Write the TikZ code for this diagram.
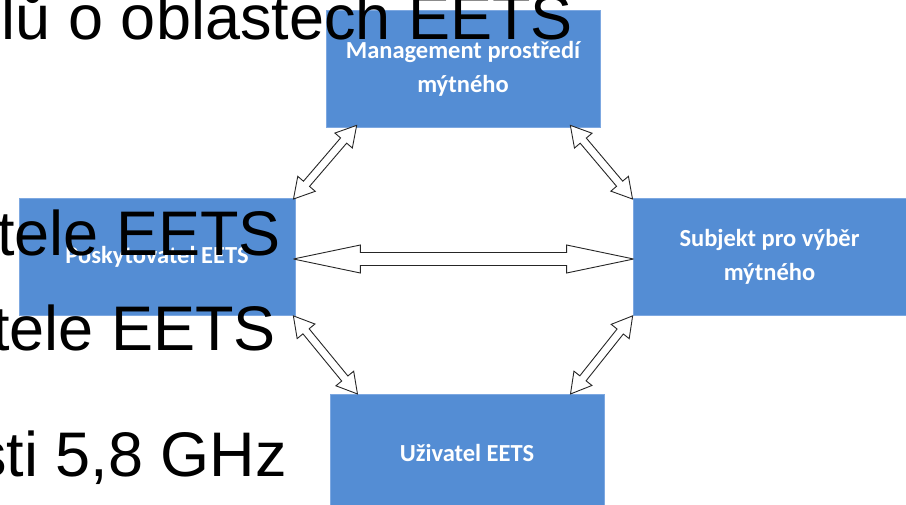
\documentclass[tikz,border=0pt]{standalone}
\usepackage{fontspec}
\setmainfont{Liberation Sans}
\newfontfamily\boxfont{Carlito}
\usetikzlibrary{calc}
\definecolor{boxblue}{RGB}{84,141,212}
\definecolor{boxedge}{RGB}{125,168,225}
\tikzset{
  bluebox/.style={rectangle, fill=boxblue, draw=boxedge, line width=0.7pt,
    inner sep=0pt, text=white, align=center,
    font=\boxfont\bfseries\fontsize{24.5}{34}\selectfont},
  bigtxt/.style={inner sep=0pt, text=black, font=\fontsize{63}{70}\selectfont},
  arrline/.style={draw=black!85, fill=white, line width=0.9pt, line join=miter, miter limit=3}
}
% double block arrow from #1 to #2: shaft half width #3, head half width #4, head length #5
\newcommand{\dblarr}[5]{%
  \pgfpointdiff{\pgfpointanchor{#1}{center}}{\pgfpointanchor{#2}{center}}%
  \pgfgetlastxy{\mydx}{\mydy}%
  \pgfmathsetmacro{\myang}{atan2(\mydy,\mydx)}%
  \pgfmathsetmacro{\mylen}{veclen(\mydx,\mydy)}%
  \begin{scope}[shift={(#1)}, rotate=\myang]
    \draw[arrline] (0,0) -- (#5,#4) -- (#5,#3) -- (\mylen-#5,#3) -- (\mylen-#5,#4)
      -- (\mylen,0) -- (\mylen-#5,-#4) -- (\mylen-#5,-#3) -- (#5,-#3) -- (#5,-#4) -- cycle;
  \end{scope}}
\begin{document}
\begin{tikzpicture}[x=1pt,y=-1pt]
\useasboundingbox (0,0) rectangle (906,504);
\clip (0,0) rectangle (906,504);
\fill[white] (0,0) rectangle (906,504);
% boxes
\node[bluebox, minimum width=274pt, minimum height=117pt] (top) at (463,68.5) {Management prostředí\\mýtného};
\node[bluebox, minimum width=276pt, minimum height=117pt] (left) at (157,257) {Poskytovatel EETS};
\node[bluebox, minimum width=273pt, minimum height=117pt] (right) at (769.5,257) {Subjekt pro výběr\\mýtného};
\node[bluebox, minimum width=274pt, minimum height=117pt] (bottom) at (467,453) {Uživatel EETS};
% arrow end points
\coordinate (a1) at ($(top.south west)+(31,-2)$);
\coordinate (a2) at ($(left.north east)+(-2,1)$);
\coordinate (b1) at ($(top.south east)+(-30,-2)$);
\coordinate (b2) at ($(right.north west)+(0,1)$);
\coordinate (c1) at ($(left.south east)+(-2,0)$);
\coordinate (c2) at ($(bottom.north west)+(28,0)$);
\coordinate (d1) at ($(right.south west)+(0,0)$);
\coordinate (d2) at ($(bottom.north east)+(-34,0)$);
\coordinate (h1) at ($(left.east)+(-2,2)$);
\coordinate (h2) at ($(right.west)+(1,2)$);
% arrows
\dblarr{a1}{a2}{4}{11.5}{20}
\dblarr{b1}{b2}{4}{11.5}{20}
\dblarr{c1}{c2}{4}{11.5}{20}
\dblarr{d1}{d2}{4}{11.5}{20}
\dblarr{h1}{h2}{6.5}{14}{67}
% overlaid slide text
\node[bigtxt, anchor=base east] (t1) at (573,39) {lů o oblastech EETS};
\node[bigtxt, anchor=base east] (t2) at (281,255) {tele EETS};
\node[bigtxt, anchor=base east] (t3) at (276,350) {tele EETS};
\node[bigtxt, anchor=base east] (t4) at (287,476) {sti 5,8 GHz};
\end{tikzpicture}
\end{document}
